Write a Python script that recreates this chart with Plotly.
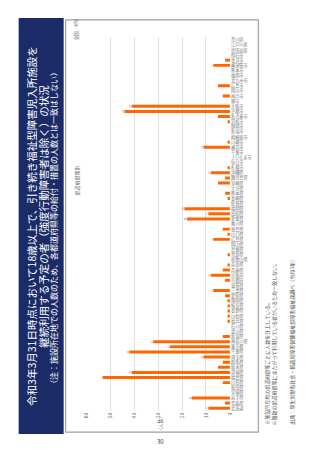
import plotly.graph_objects as go

# ---- data ----
prefectures = ["北海道","青森県","岩手県","宮城県","秋田県","山形県","福島県","茨城県","栃木県","群馬県",
               "埼玉県","千葉県","東京都","神奈川県","新潟県","富山県","石川県","福井県","山梨県","長野県",
               "岐阜県","静岡県","愛知県","三重県","滋賀県","京都府","大阪府","兵庫県","奈良県","和歌山県",
               "鳥取県","島根県","岡山県","広島県","山口県","徳島県","香川県","愛媛県","高知県","福岡県",
               "佐賀県","長崎県","熊本県","大分県","宮崎県","鹿児島県","沖縄県"]
pref_values = [9,2,16,0,0,3,53,41,5,3,
               11,42,25,32,3,0,0,1,1,1,
               1,1,2,7,0,2,8,3,1,0,
               1,0,0,7,1,3,0,18,9,19,
               0,1,2,0,5,2,8]
cities = ["札幌市","仙台市","さいたま市","千葉市","横浜市","川崎市","相模原市","新潟市","静岡市","浜松市",
          "名古屋市","京都市","大阪市","堺市","神戸市","岡山市","広島市","北九州市","福岡市","熊本市",
          "横須賀市","金沢市","明石市","世田谷区","江戸川区","荒川区"]
city_values = [1,0,0,0,11,1,0,0,0,1,
               5,44,41,0,3,0,5,0,0,0,
               7,2,0,0,0,0]
value_ticks = [0, 10, 20, 30, 40, 50, 60]

categories = prefectures + cities
values = pref_values + city_values
labels = [str(v) if v >= 7 else "" for v in values]

W, H = 320, 453
def px(x): return x / W
def py(y): return 1 - y / H

fig = go.Figure()
fig.add_trace(go.Bar(
    y=categories, x=values, orientation="h",
    marker=dict(color="#FF6600", line=dict(width=0)),
    width=0.58,
    text=labels, textposition="outside", textangle=-90,
    textfont=dict(size=5, color="#666666", family="Noto Sans CJK JP"),
    cliponaxis=False,
))

fig.update_layout(
    width=W, height=H,
    margin=dict(l=0, r=0, t=0, b=0),
    paper_bgcolor="white", plot_bgcolor="white",
    showlegend=False,
    font=dict(family="Noto Sans CJK JP", color="#555555"),
    xaxis=dict(domain=[px(84), px(231)], range=[60, 0],
               tickvals=value_ticks, ticktext=[str(t) for t in value_ticks],
               tickangle=-90, tickfont=dict(size=5, color="#666666"),
               showgrid=True, gridcolor="#e0e0e0", gridwidth=1,
               zeroline=False, showline=False, ticks=""),
    yaxis=dict(domain=[py(411.6), py(36.4)], type="category",
               categoryorder="array", categoryarray=categories,
               side="right", tickfont=dict(size=4.2, color="#777777"),
               showgrid=False, zeroline=False, showline=False, ticks="",
               range=[-0.5, len(categories) - 0.5]),
)

shapes = [
    # navy title box
    dict(type="rect", xref="paper", yref="paper", x0=px(15), x1=px(61), y0=py(435), y1=py(17),
         fillcolor="#1b2b68", line=dict(width=0), layer="below"),
    # chart frame
    dict(type="rect", xref="paper", yref="paper", x0=px(63), x1=px(260), y0=py(433), y1=py(19),
         fillcolor="rgba(0,0,0,0)", line=dict(color="#a0a0a0", width=1.2), layer="below"),
]
fig.update_layout(shapes=shapes)

ann = []
def add_text(x, y, text, size, color, xanchor="center", yanchor="middle", angle=-90):
    ann.append(dict(x=px(x), y=py(y), xref="paper", yref="paper", text=text, showarrow=False,
                    textangle=angle, xanchor=xanchor, yanchor=yanchor,
                    font=dict(size=size, color=color, family="Noto Sans CJK JP")))

add_text(27.5, 226, "令和3年3月31日時点において18歳以上で、引き続き福祉型障害児入所施設を", 10.5, "white")
add_text(39.5, 216, "継続利用する予定の者（強度行動障害者は除く）の状況", 10.5, "white")
add_text(51, 228, "（注：施設所在地での人数のため、各都道府県等の給付・措置の人数とは一致はしない）", 8, "white")
add_text(75, 29, "全国：470", 4.5, "#666666")
add_text(75, 180, "都道府県等別", 5, "#666666")
add_text(160, 425, "（人数）", 4.5, "#666666")
add_text(268, 428, "※施設所在地の都道府県等ごとに人数を計上している。", 5, "#555555", yanchor="bottom")
add_text(276, 428, "※複数の都道府県等にまたがって利用している者がいるため一致しない。", 5, "#555555", yanchor="bottom")
add_text(295, 428, "出典：厚生労働省社会・援護局障害保健福祉部障害福祉課調べ（令和3年）", 5, "#555555", yanchor="bottom")
add_text(160, 442, "30", 6, "#333333", angle=0)
fig.update_layout(annotations=ann)

fig.write_html("out.html")
